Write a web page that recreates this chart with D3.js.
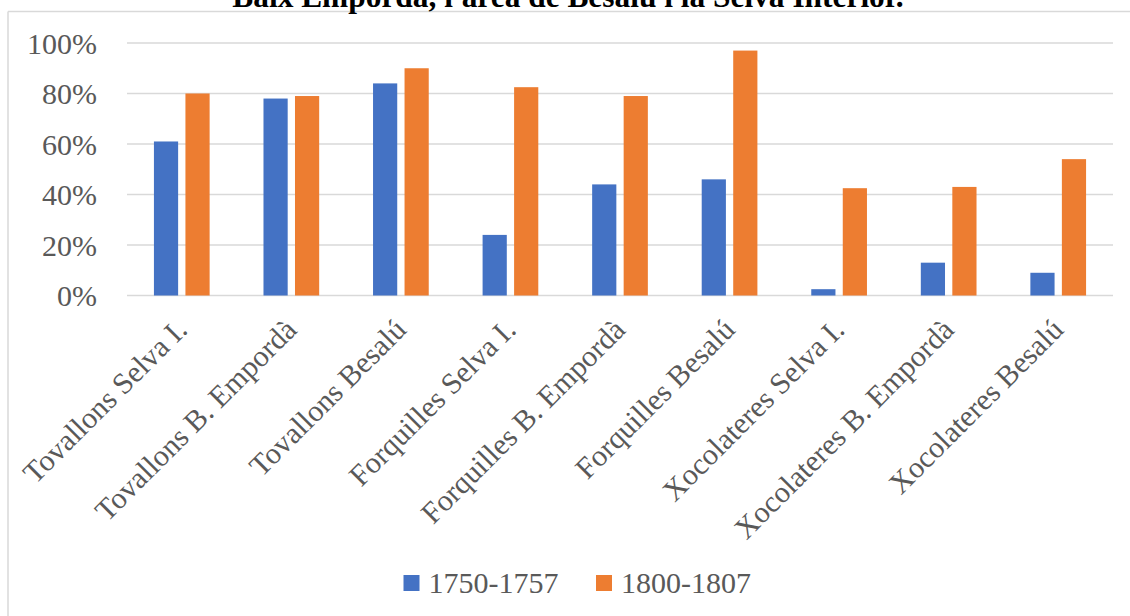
<!DOCTYPE html>
<html>
<head>
<meta charset="utf-8">
<script src="https://cdn.jsdelivr.net/npm/d3@7"></script>
<style>
  html, body { margin: 0; padding: 0; background: #fff; }
  svg { display: block; }
</style>
</head>
<body>
<svg id="chart" width="1130" height="616"></svg>
<script>
// Share of inventories containing each item, by zone and period
const categories = [
  "Tovallons Selva I.", "Tovallons B. Empordà", "Tovallons Besalú",
  "Forquilles Selva I.", "Forquilles B. Empordà", "Forquilles Besalú",
  "Xocolateres Selva I.", "Xocolateres B. Empordà", "Xocolateres Besalú"
];
const seriesNames = ["1750-1757", "1800-1807"];
const values1750 = [0.61, 0.78, 0.84, 0.24, 0.44, 0.46, 0.025, 0.13, 0.09];
const values1800 = [0.80, 0.79, 0.90, 0.825, 0.79, 0.97, 0.425, 0.43, 0.54];
const yTicks = [0, 0.2, 0.4, 0.6, 0.8, 1.0];
const colors = ["#4472C4", "#ED7D31"];
const title = "Baix Empordà, l'àrea de Besalú i la Selva Interior.";

const svg = d3.select("#chart");
const font = "'Liberation Serif', 'Times New Roman', serif";
const textColor = "#595959";
const gridColor = "#d9d9d9";

const plot = { left: 127, right: 1113, top: 43, bottom: 295.5 };

// chart frame (top and left edges visible)
svg.append("line")
  .attr("x1", 8).attr("x2", 1130).attr("y1", 11.5).attr("y2", 11.5)
  .attr("stroke", gridColor).attr("stroke-width", 1.5);
svg.append("line")
  .attr("x1", 8).attr("x2", 8).attr("y1", 11.5).attr("y2", 616)
  .attr("stroke", gridColor).attr("stroke-width", 1.5);

// title, partly above the frame
svg.append("text")
  .attr("x", 568).attr("y", 7)
  .attr("text-anchor", "middle")
  .attr("font-family", font).attr("font-weight", "bold")
  .attr("font-size", 31.4).attr("fill", "#000")
  .text(title);

const x0 = d3.scaleBand()
  .domain(categories)
  .range([plot.left, plot.right])
  .paddingInner(0.4916)
  .paddingOuter(0.2458);

const x1 = d3.scaleBand()
  .domain(seriesNames)
  .range([0, x0.bandwidth()])
  .paddingInner(0.232)
  .paddingOuter(0);

const y = d3.scaleLinear().domain([0, 1]).range([plot.bottom, plot.top]);

// gridlines
svg.append("g").selectAll("line")
  .data(yTicks)
  .join("line")
  .attr("x1", plot.left).attr("x2", plot.right)
  .attr("y1", d => y(d)).attr("y2", d => y(d))
  .attr("stroke", gridColor).attr("stroke-width", 1.5);

// y-axis labels
const yAxis = d3.axisLeft(y)
  .tickValues(yTicks)
  .tickFormat(d3.format(".0%"))
  .tickSize(0)
  .tickPadding(0);
const gy = svg.append("g")
  .attr("transform", "translate(97,0)")
  .call(yAxis);
gy.select(".domain").remove();
gy.selectAll("text")
  .attr("font-family", font).attr("font-size", 30)
  .attr("fill", textColor)
  .attr("dy", "0.34em");

// bars
const rows = categories.map((c, i) => ({
  cat: c,
  vals: [
    { s: seriesNames[0], v: values1750[i] },
    { s: seriesNames[1], v: values1800[i] }
  ]
}));

svg.append("g").selectAll("g")
  .data(rows)
  .join("g")
  .attr("transform", d => `translate(${x0(d.cat)},0)`)
  .selectAll("rect")
  .data(d => d.vals)
  .join("rect")
  .attr("x", d => x1(d.s))
  .attr("width", x1.bandwidth())
  .attr("y", d => y(d.v))
  .attr("height", d => y(0) - y(d.v))
  .attr("fill", (d, i) => colors[i]);

// category labels, rotated
const xAxis = d3.axisBottom(x0).tickSize(0).tickPadding(0);
const gx = svg.append("g")
  .attr("transform", `translate(0,${plot.bottom})`)
  .call(xAxis);
gx.select(".domain").remove();
gx.selectAll(".tick text")
  .attr("font-family", font).attr("font-size", 30)
  .attr("fill", textColor)
  .attr("text-anchor", "end")
  .attr("dy", null).attr("y", null)
  .attr("transform", "translate(7,36) rotate(-45)");

// legend
const legend = svg.append("g");
const legendItems = [
  { name: seriesNames[0], color: colors[0], x: 403.5 },
  { name: seriesNames[1], color: colors[1], x: 596 }
];
legendItems.forEach(it => {
  legend.append("rect")
    .attr("x", it.x).attr("y", 575)
    .attr("width", 16).attr("height", 16)
    .attr("fill", it.color);
  legend.append("text")
    .attr("x", it.x + 25).attr("y", 593)
    .attr("font-family", font).attr("font-size", 30)
    .attr("fill", textColor)
    .text(it.name);
});
</script>
</body>
</html>
